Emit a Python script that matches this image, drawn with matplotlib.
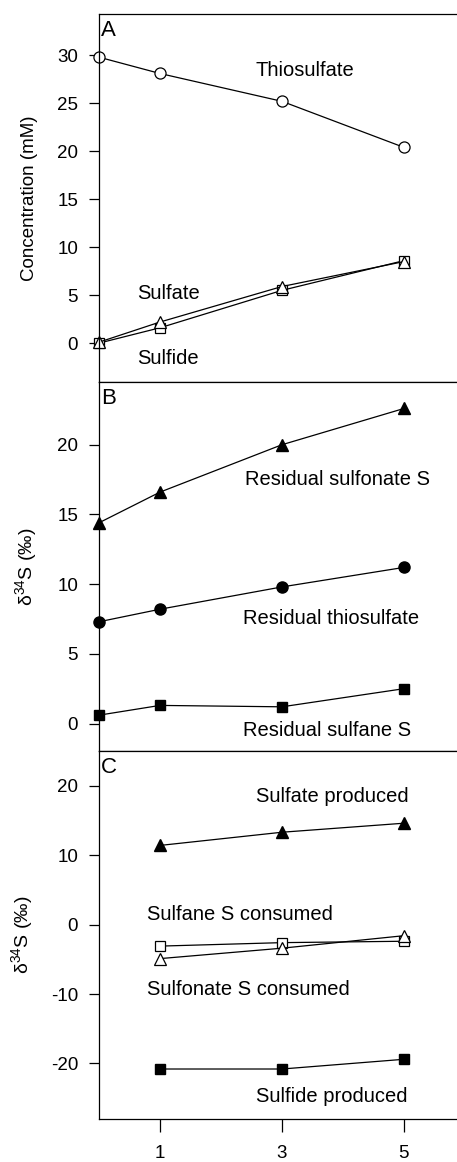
import matplotlib.pyplot as plt

plt.rcParams['font.family'] = ['Liberation Sans', 'DejaVu Sans']
plt.rcParams['axes.unicode_minus'] = False
plt.rcParams['mathtext.default'] = 'regular'

# panel A: concentration (mM)
time_a = [0, 1, 3, 5]
thiosulfate = [29.8, 28.1, 25.2, 20.4]
sulfate = [0.1, 2.2, 5.9, 8.5]
sulfide = [0.0, 1.6, 5.5, 8.6]

# panel B: residual d34S
time_b = [0, 1, 3, 5]
res_sulfonate = [14.4, 16.6, 20.0, 22.6]
res_thiosulfate = [7.3, 8.2, 9.8, 11.2]
res_sulfane = [0.6, 1.3, 1.2, 2.5]

# panel C: produced / consumed d34S
time_c = [1, 3, 5]
sulfate_prod = [11.4, 13.3, 14.6]
sulfane_cons = [-3.1, -2.6, -2.4]
sulfonate_cons = [-4.9, -3.4, -1.6]
sulfide_prod = [-20.8, -20.8, -19.4]

fig = plt.figure(figsize=(4.57, 11.62), dpi=100)
left, width = 99 / 457, 1 - 99 / 457
axA = fig.add_axes([left, 1 - 382 / 1162, width, 368 / 1162])
axB = fig.add_axes([left, 1 - 751 / 1162, width, 369 / 1162])
axC = fig.add_axes([left, 1 - 1119 / 1162, width, 368 / 1162])

line = dict(color='black', lw=0.9)
openm = dict(mfc='white', mec='black', mew=0.9)
fillm = dict(mfc='black', mec='black')

axA.plot(time_a, thiosulfate, marker='o', ms=8, **line, **openm)
axA.plot(time_a, sulfide, marker='s', ms=7, **line, **openm)
axA.plot(time_a, sulfate, marker='^', ms=8, **line, **openm)

axB.plot(time_b, res_sulfonate, marker='^', ms=8, **line, **fillm)
axB.plot(time_b, res_thiosulfate, marker='o', ms=8, **line, **fillm)
axB.plot(time_b, res_sulfane, marker='s', ms=7, **line, **fillm)

axC.plot(time_c, sulfate_prod, marker='^', ms=8, **line, **fillm)
axC.plot(time_c, sulfane_cons, marker='s', ms=7, **line, **openm)
axC.plot(time_c, sulfonate_cons, marker='^', ms=8, **line, **openm)
axC.plot(time_c, sulfide_prod, marker='s', ms=7, **line, **fillm)

axA.set_ylim(-4.05, 34.3)
axA.set_yticks([0, 5, 10, 15, 20, 25, 30])
axB.set_ylim(-1.97, 24.5)
axB.set_yticks([0, 5, 10, 15, 20])
axC.set_ylim(-28, 25)
axC.set_yticks([-20, -10, 0, 10, 20])

for ax in (axA, axB, axC):
    ax.set_xlim(0, 5.87)
    ax.spines['right'].set_visible(False)
    for s in ax.spines.values():
        s.set_linewidth(0.9)
    ax.tick_params(axis='y', direction='out', length=7, width=0.9, pad=8, labelsize=13.5)
    for ln in ax.lines:
        ln.set_clip_on(False)
for ax in (axA, axB):
    ax.set_xticks([])
axC.set_xticks([1, 3, 5])
axC.tick_params(axis='x', direction='out', length=9, width=0.9, pad=10, labelsize=13.5)

axA.set_ylabel('Concentration (mM)', fontsize=13.5)
axB.set_ylabel(r'$\delta^{34}$S (‰)', fontsize=14)
axC.set_ylabel(r'$\delta^{34}$S (‰)', fontsize=14)
axA.yaxis.set_label_coords(-0.17, 0.5)
axB.yaxis.set_label_coords(-0.168, 0.5)
axC.yaxis.set_label_coords(-0.18, 0.5)

for ax, letter in ((axA, 'A'), (axB, 'B'), (axC, 'C')):
    ax.text(0.006, 0.983, letter, transform=ax.transAxes, fontsize=16,
            ha='left', va='top')

fs = 14.5
axA.text(2.56, 28.4, 'Thiosulfate', fontsize=fs, va='center')
axA.text(0.62, 5.2, 'Sulfate', fontsize=fs, va='center')
axA.text(0.62, -1.6, 'Sulfide', fontsize=fs, va='center')

axB.text(2.39, 17.5, 'Residual sulfonate S', fontsize=fs, va='center')
axB.text(2.36, 7.55, 'Residual thiosulfate', fontsize=fs, va='center')
axB.text(2.36, -0.5, 'Residual sulfane S', fontsize=fs, va='center')

axC.text(2.58, 18.5, 'Sulfate produced', fontsize=fs, va='center')
axC.text(0.78, 1.4, 'Sulfane S consumed', fontsize=fs, va='center')
axC.text(0.78, -9.35, 'Sulfonate S consumed', fontsize=fs, va='center')
axC.text(2.58, -24.7, 'Sulfide produced', fontsize=fs, va='center')

fig.savefig('out.png', dpi=100)
